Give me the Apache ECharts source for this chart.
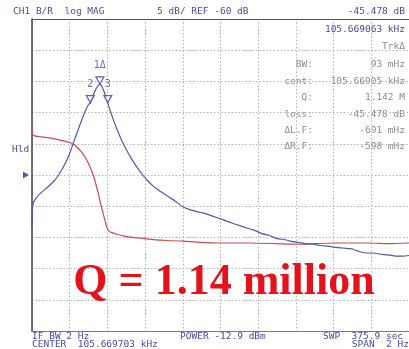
<!DOCTYPE html>
<html>
<head>
<meta charset="utf-8">
<script src="https://cdn.jsdelivr.net/npm/echarts@6/dist/echarts.min.js"></script>
<style>
  html, body { margin: 0; padding: 0; background: #ffffff; }
  #chart { width: 409px; height: 349px; }
</style>
</head>
<body>
<div id="chart"></div>
<script>
// Channel 1 trace (B/R log magnitude): frequency offset from CENTER in Hz, level in dB
const blueFreq = [-1.000, -0.997, -0.990, -0.975, -0.955, -0.930, -0.905, -0.878, -0.855, -0.835,
  -0.815, -0.795, -0.775, -0.755, -0.735, -0.715, -0.700, -0.691, -0.680, -0.668,
  -0.655, -0.647, -0.640, -0.633, -0.622, -0.610, -0.598, -0.585, -0.570, -0.550,
  -0.525, -0.500, -0.470, -0.440, -0.413, -0.390, -0.360, -0.330, -0.300, -0.270,
  -0.240, -0.200, -0.160, -0.120, -0.090, -0.050, 0.016, 0.060, 0.100, 0.140,
  0.175, 0.220, 0.260, 0.300, 0.333, 0.370, 0.410, 0.450, 0.492, 0.530,
  0.570, 0.614, 0.650, 0.680, 0.704, 0.740, 0.780, 0.810, 0.850, 0.890,
  0.930, 0.968, 1.000];
const blueDb = [-68.4, -65.2, -64.3, -63.6, -62.9, -62.3, -61.6, -60.8, -59.8, -58.8,
  -57.6, -56.1, -54.4, -52.7, -51.1, -49.6, -48.7, -48.478, -47.6, -46.7,
  -45.9, -45.6, -45.478, -45.6, -46.3, -47.3, -48.478, -49.7, -51.0, -52.6,
  -54.4, -55.9, -57.5, -58.9, -60.0, -60.8, -61.7, -62.4, -63.0, -63.6,
  -64.2, -65.1, -65.6, -65.9, -66.1, -66.5, -67.2, -67.7, -68.1, -68.5,
  -68.8, -69.4, -69.7, -70.2, -70.3, -70.6, -70.8, -71.0, -71.1, -71.3,
  -71.4, -71.6, -71.7, -71.8, -71.9, -72.3, -72.5, -72.5, -72.7, -72.8,
  -73.0, -73.0, -72.9];

// Second (red) trace
const redFreq = [-1.000, -0.998, -0.990, -0.950, -0.900, -0.852, -0.800, -0.775, -0.760, -0.740,
  -0.725, -0.710, -0.695, -0.680, -0.667, -0.655, -0.645, -0.635, -0.624, -0.612,
  -0.603, -0.595, -0.580, -0.550, -0.510, -0.466, -0.400, -0.340, -0.286, -0.200,
  -0.111, 0.000, 0.153, 0.300, 0.418, 0.500, 0.603, 0.700, 0.788, 0.900, 1.000];
const redDb = [-51.5, -53.4, -53.7, -53.9, -54.1, -54.4, -54.8, -55.2, -55.6, -56.2,
  -56.8, -57.6, -58.5, -59.6, -60.8, -62.2, -63.4, -64.7, -66.0, -67.4,
  -68.4, -68.9, -69.2, -69.5, -69.8, -70.0, -70.2, -70.4, -70.5, -70.6,
  -70.8, -70.9, -70.9, -71.0, -71.1, -71.0, -70.9, -70.9, -70.9, -71.0, -70.9];

// Markers: 1 = peak, 2/3 = -3 dB points
const markerNames = ['1', '2', '3'];
const markerFreq = [-0.640, -0.691, -0.598];
const markerDb = [-45.478, -48.478, -48.478];

// Display scale: 5 dB/div around REF -60 dB, 2 Hz span
const refLevel = -60;
const dbPerDiv = 5;
const spanHalf = 1;

// Annotation texts
const headerLeft = 'CH1 B/R  log MAG';
const headerMid = '5 dB/ REF -60 dB';
const headerRight = '-45.478 dB';
const markerFreqText = '105.669063 kHz';
const trackText = 'TrkΔ';
const statLabels = ['BW:', 'cent:', 'Q:', 'loss:', 'ΔL.F:', 'ΔR.F:'];
const statValues = ['93 mHz', '105.66905 kHz', '1.142 M', '-45.478 dB', '-691 mHz', '-598 mHz'];
const footerTexts = ['IF BW 2 Hz', 'CENTER  105.669703 kHz', 'POWER -12.9 dBm', 'SWP  375.9 sec', 'SPAN  2 Hz'];
const bigLabel = 'Q = 1.14 million';

const zip = (xs, ys) => xs.map((x, i) => [x, ys[i]]);

const BLUE = '#5058aa';
const RED = '#cc4a4e';
const TXT_BLUE = '#4a4aa6';
const TXT_GRAY = '#8c8c8c';
const MONO = '"DejaVu Sans Mono", monospace';

const chart = echarts.init(document.getElementById('chart'), null, { renderer: 'canvas' });

const monoText = (text, x, y, opts) => Object.assign({
  type: 'text', x: x, y: y, silent: true,
  style: Object.assign({ text: text, font: '9.5px ' + MONO, fill: TXT_BLUE, textVerticalAlign: 'middle' }, opts || {})
});

const graphics = [
  monoText(headerLeft, 13, 12),
  monoText(headerMid, 157, 12),
  monoText(headerRight, 405, 12, { textAlign: 'right' }),
  monoText(markerFreqText, 405, 30, { textAlign: 'right' }),
  monoText(trackText, 405, 47, { textAlign: 'right', fill: TXT_GRAY }),
  monoText('Hld', 12, 150),
  monoText(footerTexts[0], 32, 337),
  monoText(footerTexts[1], 32, 345),
  monoText(footerTexts[2], 180, 337),
  monoText(footerTexts[3], 323, 337),
  monoText(footerTexts[4], 409, 345, { textAlign: 'right' }),
  {
    type: 'text', x: 224, y: 283, silent: true, z: 20,
    style: { text: bigLabel, font: 'bold 44px "Liberation Serif", "Times New Roman", serif',
      fill: '#e2131d', textAlign: 'center', textVerticalAlign: 'middle' }
  }
];
statLabels.forEach((s, i) => {
  graphics.push(monoText(s, 313, 65 + i * 16.4, { textAlign: 'right', fill: TXT_GRAY }));
  graphics.push(monoText(statValues[i], 405, 65 + i * 16.4, { textAlign: 'right', fill: TXT_GRAY }));
});

const dotted = { show: true, lineStyle: { color: '#b4b4b4', type: [1.5, 2], width: 1 } };

chart.setOption({
  animation: false,
  backgroundColor: '#ffffff',
  grid: { left: 32, right: -1, top: 19, bottom: 18 },
  xAxis: [{
    type: 'value', min: -spanHalf, max: spanHalf, interval: 0.2,
    axisLine: { show: true, onZero: false, lineStyle: { color: '#7a7a7a', width: 1 } },
    axisTick: { show: false }, axisLabel: { show: false },
    splitLine: dotted
  }, {
    type: 'value', position: 'top', min: -spanHalf, max: spanHalf,
    axisLine: { show: true, onZero: false, lineStyle: { color: '#555555', width: 1.2 } },
    axisTick: { show: false }, axisLabel: { show: false }, splitLine: { show: false }
  }],
  yAxis: {
    type: 'value', min: refLevel - 5 * dbPerDiv, max: refLevel + 5 * dbPerDiv, interval: dbPerDiv,
    axisLine: { show: true, onZero: false, lineStyle: { color: '#444444', width: 1.5 } },
    axisTick: { show: false }, axisLabel: { show: false },
    splitLine: dotted
  },
  series: [
    {
      type: 'line', data: zip(redFreq, redDb), showSymbol: false, smooth: 0.2,
      lineStyle: { color: RED, width: 1.2 }, z: 3
    },
    {
      type: 'line', data: zip(blueFreq, blueDb), showSymbol: false, smooth: 0.2,
      lineStyle: { color: BLUE, width: 1.2 }, z: 4
    },
    {
      // marker triangles, tip resting on the trace
      type: 'scatter', z: 6,
      data: markerFreq.map((f, i) => ({ name: markerNames[i], value: [f, markerDb[i]] })),
      symbol: 'triangle', symbolRotate: 180, symbolSize: [8, 7], symbolOffset: [0, -4],
      itemStyle: { color: '#ffffff', borderColor: '#3c3c9a', borderWidth: 1.2 },
      label: {
        show: true, position: 'top', distance: 6,
        formatter: p => p.name === '1' ? '1\u0394' : p.name,
        color: '#4a4aa6', fontFamily: MONO, fontSize: 10
      }
    },
    {
      // reference-position indicator at REF level
      type: 'scatter', z: 6, clip: false,
      data: [[-spanHalf, refLevel]],
      symbol: 'triangle', symbolRotate: -90, symbolSize: [7, 6], symbolOffset: [-6, 0],
      itemStyle: { color: '#2a2ab0' }
    }
  ],
  graphic: graphics
});
</script>
</body>
</html>
